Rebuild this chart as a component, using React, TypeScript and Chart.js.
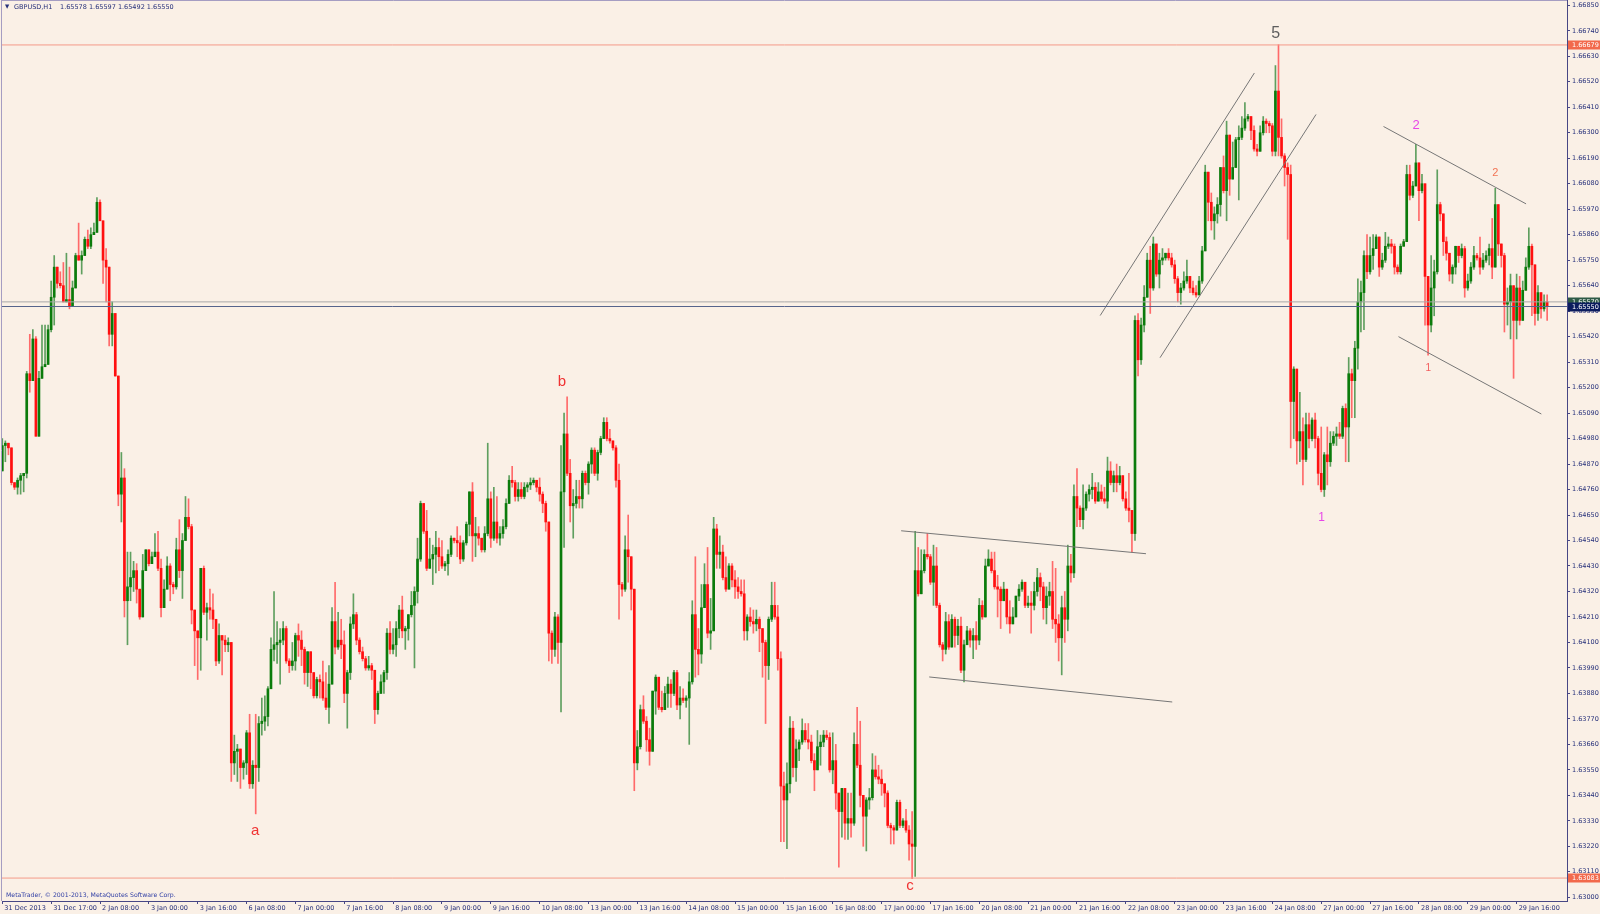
import React, { useEffect, useRef } from "react";
import { Chart, registerables } from "chart.js";

Chart.register(...registerables);

// ---------- DATA ----------
const symbolTitle = "GBPUSD,H1";
const lastQuote = ["1.65578", "1.65597", "1.65492", "1.65550"];
const copyright = "MetaTrader, \u00a9 2001-2013, MetaQuotes Software Corp.";

const timeLabels = [
  "31 Dec 2013", "31 Dec 17:00", "2 Jan 08:00", "3 Jan 00:00", "3 Jan 16:00", "6 Jan 08:00",
  "7 Jan 00:00", "7 Jan 16:00", "8 Jan 08:00", "9 Jan 00:00", "9 Jan 16:00", "10 Jan 08:00",
  "13 Jan 00:00", "13 Jan 16:00", "14 Jan 08:00", "15 Jan 00:00", "15 Jan 16:00", "16 Jan 08:00",
  "17 Jan 00:00", "17 Jan 16:00", "20 Jan 08:00", "21 Jan 00:00", "21 Jan 16:00", "22 Jan 08:00",
  "23 Jan 00:00", "23 Jan 16:00", "24 Jan 08:00", "27 Jan 00:00", "27 Jan 16:00", "28 Jan 08:00",
  "29 Jan 00:00", "29 Jan 16:00",
];
const barsPerTimeLabel = 16;

const priceTicks = [
  1.6685, 1.6674, 1.6663, 1.6652, 1.6641, 1.663, 1.6619, 1.6608, 1.6597, 1.6586, 1.6575, 1.6564,
  1.6553, 1.6542, 1.6531, 1.652, 1.6509, 1.6498, 1.6487, 1.6476, 1.6465, 1.6454, 1.6443, 1.6432,
  1.6421, 1.641, 1.6399, 1.6388, 1.6377, 1.6366, 1.6355, 1.6344, 1.6333, 1.6322, 1.6311, 1.63,
];

// hourly bars, prices x 10000 (open of each bar = previous close)
const firstOpen = 16484;
const closes = [
  16495,16496,16494,16479,16477,16480,16482,16483,16526,16523,16541,16499,16524,16529,16530,16545,16559,16572,16565,16564,
  16557,16558,16555,16563,16577,16575,16577,16584,16581,16586,16587,16600,16592,16575,16572,16543,16552,16525,16474,16481,
  16428,16434,16438,16441,16433,16421,16441,16450,16444,16447,16449,16442,16425,16433,16443,16435,16434,
  16450,16441,16454,16464,16460,16424,16415,16412,16442,16423,16425,16424,16420,16402,16413,16411,16409,16410,16358,16363,
  16364,16356,16358,16371,16349,16357,16356,16375,16376,16378,16390,16407,16409,16410,16411,16416,16402,16400,16402,16413,
  16411,16407,16397,16406,16397,16387,16394,16393,16386,16382,16392,16419,16408,16411,16409,16388,
  16397,16418,16422,16411,16406,16403,16399,16400,16398,16381,16388,16393,16397,16414,16407,16409,16416,16424,16415,16416,
  16422,16426,16432,16446,16470,16458,16442,16446,16448,16451,16447,16443,16444,16448,16455,16454,16453,16446,16453,16461,
  16475,16456,16457,16455,16450,16457,16472,16455,16462,16455,16457,16460,16470,16480,16479,16473,16476,
  16473,16477,16478,16479,16480,16477,16474,16470,16462,16414,16407,16421,16410,16475,16500,16483,16469,16470,16473,16472,
  16483,16479,16487,16493,16483,16492,16498,16505,16498,16497,16494,16480,16435,16433,16450,16447,16433,16358,16365,16381,
  16376,16368,16363,16389,16395,16382,16381,16388,16392,16388,16397,16383,16386,16385,16386,16393,
  16422,16407,16405,16425,16435,16414,16415,16459,16448,16449,16438,16433,16443,16437,16434,16432,16431,16415,16421,16419,
  16418,16420,16416,16410,16400,16420,16426,16421,16403,16348,16342,16349,16373,16356,16364,16367,16372,16368,16367,16359,
  16355,16365,16367,16370,16369,16355,16359,16345,16337,16347,16332,16334,16332,16366,16357,16344,
  16335,16342,16343,16355,16352,16351,16349,16345,16331,16330,16329,16341,16331,16333,16329,16323,16322,16441,16431,16441,
  16448,16447,16436,16443,16426,16409,16407,16419,16408,16420,16413,16417,16398,16409,16415,16411,16413,16411,16426,16421,
  16443,16446,16441,16434,16433,16428,16433,16421,16418,16421,16430,16433,16436,16426,16427,16426,
  16432,16438,16434,16425,16430,16432,16420,16418,16412,16425,16420,16443,16440,16473,16468,16463,16468,16474,16476,16477,
  16471,16475,16472,16471,16484,16479,16482,16479,16482,16472,16468,16467,16457,16549,16532,16547,16559,16575,16563,16582,
  16569,16575,16576,16578,16576,16573,16567,16561,16563,16566,16568,16563,16561,16560,16566,16579,
  16613,16600,16592,16595,16599,16615,16605,16629,16610,16615,16627,16628,16632,16636,16637,16631,16623,16622,16630,16635,
  16634,16633,16622,16648,16628,16620,16615,16612,16514,16528,16497,16501,16489,16504,16498,16506,16498,16483,16476,16491,
  16488,16496,16499,16500,16499,16511,16503,16526,16523,16537,16557,16561,16577,
  16570,16577,16580,16585,16572,16575,16581,16582,16581,16572,16570,16581,16583,16612,16603,16607,16617,16605,16608,16568,
  16547,16563,16570,16599,16595,16583,16578,16569,16572,16581,16577,16580,16563,16566,16572,16577,16576,16572,16575,16577,
  16580,16572,16599,16582,16577,16556,16557,16564,16549,16563,16549,16562,16572,16581,16573,16552,16561,16554,16557,16555,
];
const highs = [
  16498,16497,16496,16494,16479,16481,16483,16483,16527,16543,16545,16542,16527,16547,16547,16547,16566,16577,16572,16570,
  16574,16578,16572,16566,16578,16591,16579,16585,16588,16589,16591,16602,16601,16592,16580,16572,16557,16552,16525,16492,
  16485,16449,16449,16445,16444,16433,16448,16450,16450,16449,16457,16458,16446,16437,16447,16444,16436,
  16455,16463,16457,16473,16472,16461,16424,16415,16442,16443,16427,16433,16431,16420,16418,16413,16413,16412,16410,16370,
  16366,16363,16359,16372,16379,16359,16379,16378,16386,16387,16391,16412,16432,16419,16416,16419,16417,16403,16410,16414,
  16418,16415,16408,16406,16406,16396,16395,16396,16402,16397,16400,16425,16436,16423,16420,16415,
  16398,16421,16431,16423,16412,16408,16404,16404,16401,16398,16389,16396,16398,16416,16419,16416,16419,16426,16430,16417,
  16422,16432,16434,16455,16471,16470,16467,16455,16452,16458,16455,16454,16445,16450,16456,16455,16460,16456,16454,16462,
  16475,16479,16464,16460,16455,16460,16496,16475,16477,16473,16460,16463,16472,16482,16486,16480,16479,
  16479,16479,16479,16481,16481,16480,16481,16475,16471,16462,16415,16423,16422,16495,16509,16516,16489,16476,16480,16480,
  16484,16484,16488,16494,16494,16493,16499,16507,16507,16502,16497,16495,16487,16436,16456,16465,16447,16433,16372,16383,
  16387,16378,16373,16389,16396,16395,16389,16391,16395,16394,16398,16398,16391,16390,16387,16397,
  16428,16447,16416,16435,16444,16451,16429,16464,16461,16456,16452,16447,16444,16444,16441,16438,16437,16437,16422,16425,
  16424,16424,16421,16416,16411,16421,16436,16436,16426,16406,16354,16358,16378,16376,16368,16368,16377,16375,16375,16370,
  16362,16372,16370,16372,16372,16371,16371,16366,16345,16347,16347,16345,16345,16371,16382,16376,
  16344,16343,16347,16362,16361,16357,16355,16349,16346,16332,16331,16342,16342,16334,16338,16331,16337,16458,16451,16450,
  16450,16457,16448,16452,16451,16427,16410,16423,16422,16422,16421,16420,16421,16411,16417,16416,16416,16419,16429,16428,
  16446,16450,16449,16449,16439,16434,16436,16433,16428,16425,16430,16435,16437,16436,16430,16432,
  16436,16442,16440,16436,16434,16436,16445,16442,16422,16430,16432,16452,16448,16478,16485,16469,16478,16475,16478,16483,
  16479,16479,16478,16477,16490,16488,16484,16487,16486,16482,16475,16483,16467,16551,16552,16550,16564,16578,16581,16585,
  16582,16578,16580,16578,16580,16578,16575,16568,16565,16570,16575,16568,16566,16564,16568,16581,
  16616,16613,16604,16598,16602,16615,16620,16635,16629,16626,16628,16633,16637,16643,16638,16637,16633,16625,16633,16637,
  16636,16635,16634,16659,16668,16636,16621,16617,16616,16529,16528,16518,16507,16509,16509,16507,16509,16499,16503,16492,
  16503,16501,16501,16503,16505,16512,16513,16533,16528,16540,16567,16566,16579,
  16586,16585,16586,16586,16585,16578,16587,16585,16584,16582,16573,16582,16584,16616,16616,16609,16625,16617,16612,16607,
  16568,16577,16575,16614,16600,16595,16585,16578,16573,16581,16581,16582,16581,16569,16574,16581,16578,16585,16578,16579,
  16582,16593,16606,16599,16582,16578,16563,16569,16564,16569,16568,16566,16576,16589,16582,16573,16564,16560,16560,16560,
];
const lows = [
  16484,16488,16491,16478,16476,16474,16474,16475,16481,16518,16523,16499,16499,16524,16529,16530,16544,16547,16563,16563,
  16557,16557,16554,16556,16563,16575,16569,16577,16580,16580,16586,16587,16592,16565,16557,16538,16538,16525,16469,16462,
  16421,16409,16428,16432,16427,16420,16421,16441,16443,16444,16447,16441,16421,16425,16433,16428,16431,
  16433,16438,16429,16454,16459,16418,16400,16394,16398,16422,16411,16420,16416,16400,16401,16396,16406,16406,16350,16353,
  16350,16347,16351,16353,16347,16347,16336,16350,16370,16372,16374,16390,16402,16401,16392,16409,16401,16397,16398,16398,
  16404,16400,16392,16391,16390,16386,16386,16386,16385,16381,16375,16392,16405,16407,16403,16384,
  16373,16394,16416,16409,16405,16402,16398,16398,16394,16375,16379,16388,16388,16394,16405,16405,16404,16412,16412,16407,
  16411,16421,16399,16427,16445,16457,16441,16442,16435,16440,16441,16442,16441,16439,16447,16453,16447,16444,16445,16452,
  16456,16445,16447,16452,16449,16449,16456,16451,16454,16453,16452,16455,16459,16470,16477,16471,16471,
  16472,16472,16475,16476,16478,16475,16471,16466,16458,16402,16401,16404,16401,16380,16451,16482,16462,16455,16468,16468,
  16468,16478,16474,16483,16482,16480,16491,16498,16497,16496,16493,16477,16420,16430,16432,16436,16424,16346,16355,16364,
  16375,16363,16357,16363,16379,16381,16380,16381,16382,16382,16387,16381,16377,16384,16382,16366,
  16392,16395,16396,16401,16425,16412,16407,16415,16442,16442,16437,16432,16433,16434,16429,16429,16430,16411,16411,16417,
  16414,16415,16406,16395,16375,16394,16419,16420,16398,16324,16324,16321,16345,16352,16350,16359,16366,16367,16364,16358,
  16346,16355,16357,16365,16368,16354,16349,16338,16313,16326,16325,16325,16326,16331,16356,16339,
  16322,16320,16338,16342,16351,16349,16344,16339,16330,16323,16323,16329,16330,16330,16328,16316,16308,16309,16430,16431,
  16440,16446,16435,16426,16425,16408,16402,16405,16407,16408,16408,16409,16397,16393,16409,16408,16403,16407,16409,16420,
  16421,16443,16440,16433,16421,16416,16428,16418,16414,16418,16421,16428,16432,16425,16425,16414,
  16424,16430,16428,16420,16418,16426,16416,16410,16402,16396,16410,16415,16436,16438,16460,16460,16459,16467,16471,16472,
  16470,16471,16471,16470,16468,16478,16475,16475,16478,16471,16467,16462,16449,16454,16525,16530,16544,16559,16552,16562,
  16568,16563,16573,16575,16575,16572,16565,16557,16556,16562,16565,16561,16560,16559,16560,16565,
  16580,16592,16588,16584,16591,16594,16604,16592,16603,16610,16615,16601,16627,16631,16635,16627,16622,16620,16622,16629,
  16630,16630,16620,16620,16620,16619,16607,16584,16494,16498,16487,16488,16478,16488,16494,16497,16494,16478,16475,16473,
  16478,16486,16495,16495,16498,16498,16488,16488,16507,16507,16528,16544,16545,
  16567,16569,16571,16580,16568,16571,16574,16580,16578,16569,16569,16569,16581,16583,16601,16602,16607,16592,16604,16547,
  16534,16544,16551,16569,16592,16577,16575,16566,16565,16569,16574,16576,16559,16562,16565,16571,16575,16569,16571,16574,
  16573,16567,16572,16577,16572,16544,16547,16541,16524,16541,16547,16549,16562,16571,16551,16547,16549,16550,16553,16549,
];

// horizontal line objects (price levels)
const levelPrices = [1.66679, 1.63083, 1.6557, 1.6555];
const levelLabels = ["1.66679", "1.63083", "1.65570", "1.65550"];

// trend lines: [barIndex, price] endpoints
const trendStartBars = [359.6, 379.2, 294.4, 303.6, 452.4, 457.3];
const trendStartPrices = [1.65511, 1.65329, 1.64582, 1.63951, 1.66327, 1.6542];
const trendEndBars = [410.1, 430.3, 374.6, 383.2, 499.1, 504.1];
const trendEndPrices = [1.66558, 1.66379, 1.64483, 1.63843, 1.65993, 1.65086];

// wave text objects anchored at [barIndex, price]
const waveTexts = ["5", "a", "b", "c", "1", "2", "2", "1"];
const waveBars = [417.1, 82.8, 183.3, 297.3, 432.1, 463.1, 489.0, 467.1];
const wavePrices = [1.6673, 1.63288, 1.65223, 1.6305, 1.64637, 1.6633, 1.66127, 1.65285];

// ---------- STYLES ----------
const BG = "#FAF0E6";
const AXIS = "#474785";
const TEXT = "#26307A";
const BULL = "#0B7B0B";
const BEAR = "#FF1010";
const BULL_WICK = "#5F9F5F";
const BEAR_WICK = "#FF6A6A";
const levelLineColors = ["#F49A88", "#F49A88", "#A8A8A8", "#56648C"];
const levelBoxColors = ["#F2694C", "#F2694C", "#2E5A46", "#0C1C5E"];
const waveColors = ["#5E5E5E", "#F03333", "#F03333", "#F03333", "#E846E8", "#E846E8", "#F27454", "#F25C5C"];
const waveSizes = [16, 15, 15, 15, 12, 13, 11, 10];
const SMALL_FONT = '"DejaVu Sans", Tahoma, sans-serif';

const overlayPlugin = {
  id: "mtOverlay",
  afterDatasetsDraw(chart: any) {
    const { ctx, chartArea: a, scales } = chart;
    const xs = scales.x;
    const ys = scales.y;
    ctx.save();
    ctx.beginPath();
    ctx.rect(a.left, a.top, a.right - a.left, a.bottom - a.top);
    ctx.clip();
    ctx.textAlign = "center";
    ctx.textBaseline = "middle";
    waveTexts.forEach((t, i) => {
      ctx.font = `${waveSizes[i]}px "Liberation Sans", Arial, sans-serif`;
      ctx.fillStyle = waveColors[i];
      ctx.fillText(t, xs.getPixelForValue(waveBars[i]), ys.getPixelForValue(wavePrices[i]));
    });
    ctx.textAlign = "left";
    ctx.fillStyle = TEXT;
    ctx.font = `5.5px ${SMALL_FONT}`;
    ctx.fillText("\u25BC", a.left + 3, a.top + 7);
    ctx.font = `6.5px ${SMALL_FONT}`;
    ctx.fillText(symbolTitle, a.left + 12, a.top + 7);
    ctx.fillText(lastQuote.join(" "), a.left + 58, a.top + 7);
    ctx.fillStyle = "#3442A6";
    ctx.font = `6.2px ${SMALL_FONT}`;
    ctx.fillText(copyright, a.left + 4, a.bottom - 6);
    ctx.restore();
  },
  afterDraw(chart: any) {
    const { ctx, chartArea: a, scales } = chart;
    const ys = scales.y;
    ctx.save();
    ctx.strokeStyle = "#A59DC2";
    ctx.lineWidth = 1;
    ctx.beginPath();
    ctx.moveTo(a.left - 0.5, a.top);
    ctx.lineTo(a.left - 0.5, a.bottom);
    ctx.moveTo(a.left, a.top + 0.5);
    ctx.lineTo(a.right, a.top + 0.5);
    ctx.stroke();
    ctx.font = `6.5px ${SMALL_FONT}`;
    ctx.textAlign = "left";
    ctx.textBaseline = "middle";
    levelPrices.forEach((p, i) => {
      const y = Math.round(ys.getPixelForValue(p));
      ctx.fillStyle = levelBoxColors[i];
      ctx.fillRect(a.right + 1, y - 4.5, 33, 9);
      ctx.fillStyle = "#FFFFFF";
      ctx.fillText(levelLabels[i], a.right + 5, y + 0.5);
    });
    ctx.restore();
  },
};

export default function App() {
  const ref = useRef<HTMLCanvasElement | null>(null);

  useEffect(() => {
    const canvas = ref.current;
    if (!canvas) return;
    document.body.style.margin = "0";
    const P = (v: number) => v / 10000;
    const opens = closes.map((c, i) => (i === 0 ? firstOpen : closes[i - 1]));
    const up = closes.map((c, i) => c >= opens[i]);
    const bodyData = closes.map((c, i) => ({ x: i, y: [P(opens[i]), P(c)] }));
    const wickData = closes.map((c, i) => ({
      x: i,
      y: [P(Math.min(lows[i], opens[i], c)), P(Math.max(highs[i], opens[i], c))],
    }));

    const trendSets = trendStartBars.map((b, i) => ({
      type: "line",
      data: [
        { x: b, y: trendStartPrices[i] },
        { x: trendEndBars[i], y: trendEndPrices[i] },
      ],
      borderColor: "#767676",
      borderWidth: 1,
      pointRadius: 0,
      order: 0,
    }));
    const levelSets = levelPrices.map((p, i) => ({
      type: "line",
      data: [
        { x: -5, y: p },
        { x: 520, y: p },
      ],
      borderColor: levelLineColors[i],
      borderWidth: 1,
      pointRadius: 0,
      order: 0,
    }));

    const chart = new Chart(canvas, {
      type: "bar",
      data: {
        datasets: [
          ...levelSets,
          ...trendSets,
          {
            type: "bar",
            data: bodyData,
            backgroundColor: up.map((u) => (u ? BULL : BEAR)),
            barThickness: 2,
            grouped: false,
            minBarLength: 1,
            borderWidth: 0,
            order: 1,
          },
          {
            type: "bar",
            data: wickData,
            backgroundColor: up.map((u) => (u ? BULL_WICK : BEAR_WICK)),
            barThickness: 1,
            grouped: false,
            minBarLength: 1,
            borderWidth: 0,
            order: 2,
          },
        ] as any,
      },
      options: {
        animation: false,
        responsive: false,
        devicePixelRatio: 1,
        layout: { padding: { left: 2, top: 0, right: 0, bottom: 0 } },
        plugins: { legend: { display: false }, tooltip: { enabled: false } },
        scales: {
          x: {
            type: "linear",
            min: -0.1,
            max: 512.5,
            offset: false,
            afterBuildTicks: (s: any) => {
              s.ticks = timeLabels.map((_, k) => ({ value: k * barsPerTimeLabel }));
            },
            afterFit: (s: any) => {
              s.height = 13;
              s.paddingLeft = 0;
              s.paddingRight = 0;
            },
            ticks: {
              autoSkip: false,
              maxRotation: 0,
              minRotation: 0,
              align: "start",
              padding: 0,
              color: TEXT,
              font: { family: SMALL_FONT, size: 6.5 },
              callback: (_v: any, idx: number) => " " + timeLabels[idx],
            },
            grid: { drawOnChartArea: false, drawTicks: true, tickLength: 3, color: AXIS, offset: false },
            border: { display: true, color: AXIS },
          },
          y: {
            type: "linear",
            position: "right",
            min: 1.62984,
            max: 1.66873,
            beginAtZero: false,
            afterBuildTicks: (s: any) => {
              s.ticks = priceTicks.map((v) => ({ value: v }));
            },
            afterFit: (s: any) => {
              s.width = 33;
              s.paddingTop = 0;
              s.paddingBottom = 0;
            },
            ticks: {
              autoSkip: false,
              padding: 2,
              color: TEXT,
              font: { family: SMALL_FONT, size: 6.5 },
              callback: (v: any) => Number(v).toFixed(5),
            },
            grid: { drawOnChartArea: false, drawTicks: true, tickLength: 3, color: AXIS },
            border: { display: true, color: AXIS },
          },
        },
      } as any,
      plugins: [overlayPlugin],
    });
    return () => chart.destroy();
  }, []);

  return (
    <div style={{ position: "fixed", left: 0, top: 0, width: 1600, height: 914, background: BG }}>
      <canvas ref={ref} width={1600} height={914} style={{ display: "block" }} />
    </div>
  );
}
